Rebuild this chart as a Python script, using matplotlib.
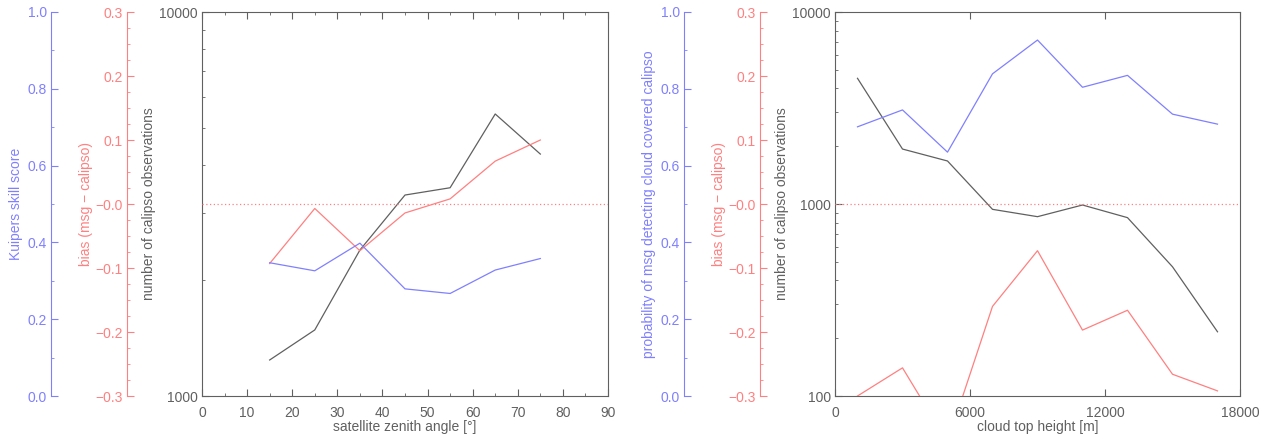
import numpy as np
import matplotlib
matplotlib.use("Agg")
import matplotlib.pyplot as plt
from matplotlib.ticker import MultipleLocator, FixedLocator, NullFormatter

# left panel: satellite zenith angle
angle = [15, 25, 35, 45, 55, 65, 75]
angle_kss = [0.347, 0.326, 0.398, 0.279, 0.267, 0.328, 0.358]
angle_bias = [-0.093, -0.007, -0.073, -0.014, 0.008, 0.067, 0.100]
angle_nobs = [1241, 1486, 2399, 3337, 3486, 5425, 4266]

# right panel: cloud top height
height = [1000, 3000, 5000, 7000, 9000, 11000, 13000, 15000, 17000]
height_prob = [0.701, 0.745, 0.635, 0.839, 0.927, 0.804, 0.835, 0.734, 0.708]
height_bias = [-0.300, -0.256, -0.372, -0.160, -0.073, -0.197, -0.166, -0.266, -0.292]
height_nobs = [4515, 1933, 1675, 938, 859, 988, 849, 471, 216]

BLUE = '#8080ff'
RED = '#ff8080'
GRAY = '#606060'
fs = 10

plt.rcParams['font.family'] = ['Liberation Sans', 'DejaVu Sans']
plt.rcParams['font.size'] = fs

fig = plt.figure(figsize=(12.66, 4.36), dpi=100)


def style_side(a, color, offset, label, labelpad):
    for s in a.spines.values():
        s.set_visible(False)
    a.spines['left'].set_visible(True)
    a.spines['left'].set_color(color)
    a.spines['left'].set_position(('outward', offset * 0.72))
    a.yaxis.set_ticks_position('left')
    a.yaxis.set_label_position('left')
    a.tick_params(axis='y', which='both', direction='in', colors=color, pad=3)
    a.tick_params(axis='y', which='major', length=5)
    a.tick_params(axis='y', which='minor', length=2.5)
    a.set_ylabel(label, color=color, labelpad=labelpad)


def panel(rect, x, kss, bias, nobs, ylo, xlim, xmaj, xmin_, xlabel, kss_label):
    ax = fig.add_axes(rect)
    ax.set_yscale('log')
    ax.plot(x, nobs, color=GRAY, lw=0.9)
    ax.set_ylim(ylo, 10000)
    ax.set_xlim(*xlim)
    ax.xaxis.set_major_locator(MultipleLocator(xmaj))
    if xmin_:
        ax.xaxis.set_minor_locator(MultipleLocator(xmin_))
    else:
        ax.xaxis.set_minor_locator(FixedLocator([]))
    majors = [v for v in [100, 1000, 10000] if v >= ylo]
    ax.yaxis.set_major_locator(FixedLocator(majors))
    ax.set_yticklabels([str(v) for v in majors])
    minors = [m * d for d in [100, 1000] for m in range(2, 10) if m * d > ylo]
    ax.yaxis.set_minor_locator(FixedLocator(minors))
    ax.yaxis.set_minor_formatter(NullFormatter())
    for s in ax.spines.values():
        s.set_color(GRAY)
    ax.tick_params(which='both', direction='in', top=True, right=True, colors=GRAY, pad=3)
    ax.tick_params(which='major', length=5)
    ax.tick_params(which='minor', length=2.5)
    ax.tick_params(axis='x', pad=7)
    ax.set_xlabel(xlabel, color=GRAY, labelpad=0)
    ax.set_ylabel('number of calipso observations', color=GRAY, labelpad=2)

    axr = ax.twinx()
    axr.plot(x, bias, color=RED, lw=0.9)
    axr.axhline(0, color=RED, lw=0.9, ls=(0, (1, 2)))
    axr.set_ylim(-0.3, 0.3)
    axr.yaxis.set_major_locator(FixedLocator([-0.3, -0.2, -0.1, 0.0, 0.1, 0.2, 0.3]))
    axr.set_yticklabels(['\u22120.3', '\u22120.2', '\u22120.1', '\u22120.0', '0.1', '0.2', '0.3'])
    axr.yaxis.set_minor_locator(MultipleLocator(0.025))
    style_side(axr, RED, 75, 'bias (msg \u2212 calipso)', 2)

    axb = ax.twinx()
    axb.plot(x, kss, color=BLUE, lw=0.9)
    axb.set_ylim(0, 1)
    axb.yaxis.set_major_locator(MultipleLocator(0.2))
    axb.yaxis.set_major_formatter(matplotlib.ticker.FormatStrFormatter('%.1f'))
    axb.yaxis.set_minor_locator(MultipleLocator(0.1))
    style_side(axb, BLUE, 151, kss_label, 3)
    return ax


W, H = 1266, 436
panel([202 / W, 40 / H, 406 / W, 384 / H], angle, angle_kss, angle_bias, angle_nobs,
      1000, (0, 90), 10, 5, 'satellite zenith angle [\u00b0]', 'Kuipers skill score')
panel([835 / W, 40 / H, 405 / W, 384 / H], height, height_prob, height_bias, height_nobs,
      100, (0, 18000), 6000, None, 'cloud top height [m]',
      'probability of msg detecting cloud covered calipso')

fig.savefig('out.png', dpi=100)
